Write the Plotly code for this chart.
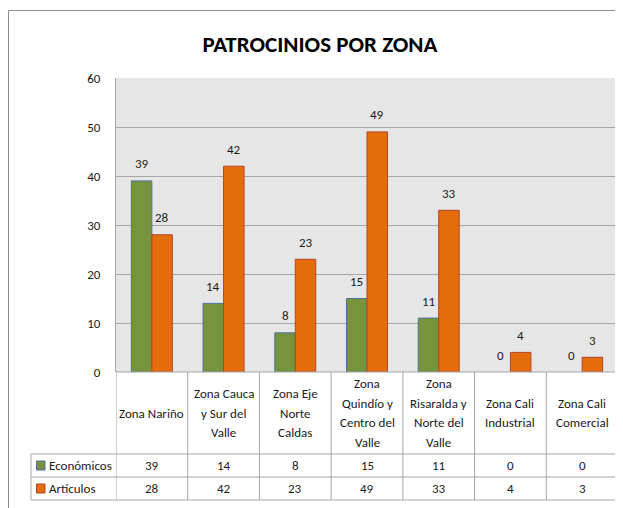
import plotly.graph_objects as go

categories = ["Zona Nariño", "Zona Cauca y Sur del Valle", "Zona Eje Norte Caldas",
              "Zona Quindío y Centro del Valle", "Zona Risaralda y Norte del Valle",
              "Zona Cali Industrial", "Zona Cali Comercial"]
header_lines = [["Zona Nariño"], ["Zona Cauca", "y Sur del", "Valle"],
                ["Zona Eje", "Norte", "Caldas"], ["Zona", "Quindío y", "Centro del", "Valle"],
                ["Zona", "Risaralda y", "Norte del", "Valle"], ["Zona Cali", "Industrial"],
                ["Zona Cali", "Comercial"]]
economicos = [39, 14, 8, 15, 11, 0, 0]
articulos = [28, 42, 23, 49, 33, 4, 3]
series_names = ["Económicos", "Artículos"]
y_ticks = [0, 10, 20, 30, 40, 50, 60]

# page has an 8px body margin; figure is sized so it fills the window
OFF = 8
W, H = 623 - OFF, 508 - OFF
ML, MR, MT, MB = 108, 5, 70, 136
PW, PH = W - ML - MR, H - MT - MB
FONT = "Carlito, 'Liberation Sans Narrow', 'DejaVu Sans Condensed', sans-serif"
GREEN, ORANGE = "#77933C", "#E46C0A"
GRID = "#A6A6A6"
TXT = "#1a1a1a"

def px(x):  # window pixel -> paper
    return (x - OFF - ML) / PW

def py(y):
    return (H - MB - (y - OFF)) / PH

xs = list(range(len(categories)))
fig = go.Figure()
fig.add_trace(go.Bar(x=xs, y=economicos, name=series_names[0],
                     marker=dict(color=GREEN, line=dict(color="#4F6F9F",
                                 width=[1 if v else 0 for v in economicos]))))
fig.add_trace(go.Bar(x=xs, y=articulos, name=series_names[1],
                     marker=dict(color=ORANGE, line=dict(color="#B0452A",
                                 width=[1 if v else 0 for v in articulos]))))

ann = []
shapes = []
bw = 1 / 3.5
for i in xs:
    for vals, off in ((economicos, -bw / 2), (articulos, bw / 2)):
        ann.append(dict(x=i + off, y=vals[i], xref="x", yref="y", text=str(vals[i]),
                        showarrow=False, yanchor="middle", yshift=17,
                        font=dict(size=13, color=TXT, family=FONT)))

# table header
hdr_c = py(413)
for i, lines in enumerate(header_lines):
    n = len(lines)
    for k, t in enumerate(lines):
        ann.append(dict(x=i, y=hdr_c, xref="x", yref="paper", text=t, showarrow=False,
                        yanchor="middle", yshift=-(k - (n - 1) / 2) * 19.5,
                        font=dict(size=13, color=TXT, family=FONT)))

rows = [(economicos, 465.5, GREEN, "#4F6F9F"), (articulos, 488.5, ORANGE, "#B0452A")]
for (vals, yc, col, lc), name in zip(rows, series_names):
    for i in xs:
        ann.append(dict(x=i, y=py(yc), xref="x", yref="paper", text=str(vals[i]),
                        showarrow=False, yanchor="middle",
                        font=dict(size=13, color=TXT, family=FONT)))
    ann.append(dict(x=px(46.5), y=py(yc), xref="paper", yref="paper", text=name,
                    showarrow=False, xanchor="left", yanchor="middle",
                    font=dict(size=13, color=TXT, family=FONT)))
    shapes.append(dict(type="rect", xref="paper", yref="paper",
                       x0=px(36.5), x1=px(45), y0=py(yc - 4.5), y1=py(yc + 4.5),
                       fillcolor=col, line=dict(color=lc, width=1)))

# table lines
for yy in (454, 477, 500):
    shapes.append(dict(type="line", xref="paper", yref="paper", x0=px(31), x1=1,
                       y0=py(yy), y1=py(yy), line=dict(color=GRID, width=1)))
shapes.append(dict(type="line", xref="paper", yref="paper", x0=px(31), x1=px(31),
                   y0=py(454), y1=py(500), line=dict(color=GRID, width=1)))
for i in range(len(categories) + 1):
    shapes.append(dict(type="line", xref="x", yref="paper", x0=i - 0.5, x1=i - 0.5,
                       y0=0, y1=py(500), line=dict(color=GRID, width=1)))
shapes.append(dict(type="line", xref="paper", yref="paper", x0=0, x1=1, y0=0, y1=0,
                   line=dict(color=GRID, width=1)))
# chart border
shapes.append(dict(type="rect", xref="paper", yref="paper", x0=px(8.5), x1=px(640),
                   y0=py(520), y1=py(10.5), line=dict(color="#8C8C8C", width=1),
                   fillcolor="rgba(0,0,0,0)", layer="above"))

fig.update_layout(
    width=W, height=H, margin=dict(l=ML, r=MR, t=MT, b=MB),
    paper_bgcolor="white", plot_bgcolor="#E6E6E6",
    barmode="group", bargap=1.5 / 3.5, bargroupgap=0,
    showlegend=False,
    font=dict(family=FONT, color=TXT, size=13),
    title=dict(text="<b>PATROCINIOS POR ZONA</b>", x=(320 - OFF) / W, xanchor="center",
               xref="container", y=1 - (44 - OFF) / H, yanchor="middle", yref="container",
               font=dict(size=23, family=FONT, color="#000")),
    annotations=ann, shapes=shapes,
)
fig.update_xaxes(range=[-0.5, len(categories) - 0.5], showticklabels=False,
                 showgrid=False, zeroline=False, showline=False, ticks="")
fig.update_yaxes(range=[0, 60], tickvals=y_ticks, showgrid=True, gridcolor=GRID,
                 gridwidth=1, zeroline=False, showline=True, linecolor=GRID,
                 ticks="", ticklabelstandoff=12, tickfont=dict(size=13, color=TXT))
fig.write_html("out.html")
